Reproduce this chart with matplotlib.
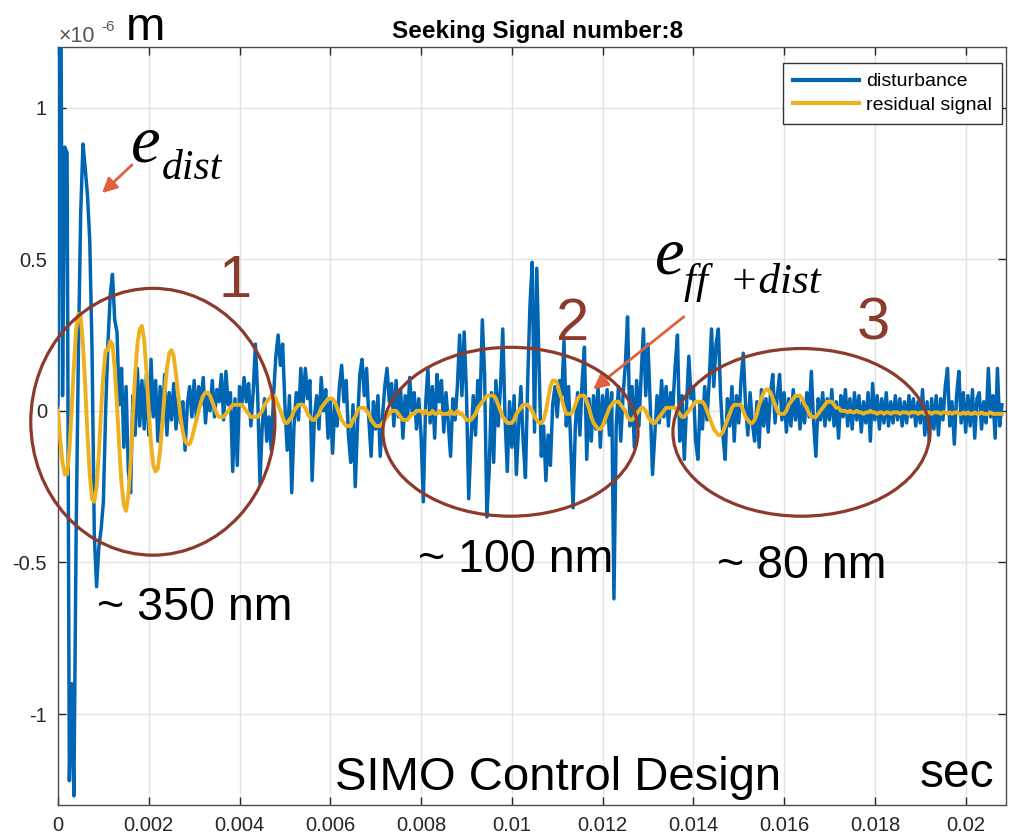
import matplotlib
matplotlib.use('Agg')
import matplotlib.pyplot as plt
from matplotlib.patches import Ellipse
from matplotlib.ticker import FuncFormatter
import numpy as np

plt.rcParams['font.family'] = ['Liberation Sans', 'DejaVu Sans']

dt = 0.00005  # sample time, s

# disturbance, x1e-6 m
disturbance = [
    0.02, 1.9, 0.05, 0.87, 0.85, -1.22, -0.9, -1.27, -0.4, 0.2, 0.65, 0.88, 0.80, 0.71, 0.56, 0.20, -0.41, -0.58, -0.45, -0.39,
    -0.30, 0.0, 0.22, 0.38, 0.45, 0.30, 0.26, 0.02, 0.14, -0.12, 0.08, -0.20, -0.27, 0.05, -0.08, 0.14, -0.05, 0.10, -0.06, 0.12,
    -0.08, 0.17, -0.02, 0.10, -0.10, 0.08, -0.05, 0.12, -0.08, 0.06, -0.03, 0.09, -0.06, 0.05, -0.04, 0.03, -0.13, 0.02, 0.08, -0.02,
    0.10, -0.03, 0.08, 0.02, 0.11, -0.04, 0.06, 0.00, 0.10, -0.02, 0.07, 0.03, 0.12, -0.03, 0.13, 0.02, 0.06, -0.20, 0.04, -0.18,
    0.08, 0.02, 0.11, 0.03, 0.09, -0.05, 0.06, 0.22, 0.05, -0.24, -0.05, 0.04, -0.10, -0.02, -0.13, 0.05, 0.18, 0.25, 0.15, 0.22,
    0.02, -0.13, 0.05, -0.27, -0.05, 0.06, -0.03, 0.14, 0.02, 0.14, 0.04, 0.10, -0.23, -0.02, 0.05, -0.06, 0.11, 0.00, 0.07, -0.09,
    0.04, -0.14, 0.02, -0.05, 0.08, 0.15, 0.03, 0.10, -0.08, -0.17, 0.02, -0.25, -0.04, 0.12, 0.17, 0.05, 0.14, -0.03, -0.15, 0.03,
    -0.06, 0.05, -0.15, -0.02, 0.08, 0.14, 0.03, 0.09, -0.05, 0.10, -0.02, 0.07, -0.09, 0.05, -0.03, 0.11, 0.00, 0.06, -0.06, 0.04,
    -0.08, -0.30, 0.02, 0.14, -0.04, 0.08, -0.09, 0.12, 0.03, 0.10, -0.07, 0.06, -0.04, -0.15, 0.04, -0.03, 0.08, 0.25, 0.05, 0.26,
    0.06, -0.29, -0.10, 0.05, -0.08, 0.10, 0.02, 0.30, 0.12, -0.35, -0.20, 0.06, -0.17, 0.10, -0.05, 0.08, 0.27, -0.02, -0.20, 0.03,
    -0.12, 0.05, -0.21, -0.05, 0.08, -0.10, -0.22, 0.10, 0.35, 0.49, -0.07, 0.47, 0.15, -0.15, -0.05, -0.23, -0.08, -0.18, 0.02, 0.08,
    -0.02, 0.10, 0.05, 0.23, -0.05, 0.08, -0.12, -0.32, -0.05, 0.06, -0.08, 0.10, 0.21, -0.16, 0.04, -0.10, 0.05, -0.06, 0.08, -0.12,
    0.05, -0.04, 0.07, -0.08, 0.06, -0.62, -0.05, 0.08, -0.10, 0.05, 0.15, 0.31, -0.05, 0.08, -0.12, 0.10, -0.05, 0.12, 0.27, 0.05,
    0.22, 0.02, -0.21, -0.08, 0.05, -0.04, 0.10, -0.02, 0.08, -0.05, 0.06, 0.02, 0.15, 0.25, -0.10, 0.05, -0.16, 0.02, 0.18, 0.04,
    0.08, -0.10, -0.16, 0.03, -0.06, 0.08, -0.03, 0.10, 0.27, 0.08, 0.22, 0.27, 0.05, -0.08, -0.16, 0.04, -0.05, 0.08, -0.10, 0.05,
    -0.04, 0.10, 0.19, 0.02, -0.08, 0.06, -0.04, -0.10, 0.03, -0.12, 0.07, -0.05, 0.04, -0.07, 0.06, 0.12, -0.04, 0.05, 0.12, -0.03,
    0.06, -0.07, 0.04, -0.05, 0.07, -0.03, 0.05, -0.06, 0.03, -0.04, 0.06, -0.02, 0.13, -0.04, -0.15, 0.04, -0.03, 0.06, -0.05, 0.04,
    -0.03, 0.07, -0.05, 0.03, -0.09, 0.05, -0.02, 0.07, -0.05, 0.04, -0.06, 0.06, -0.03, 0.05, -0.07, 0.03, -0.04, 0.06, -0.10, 0.09,
    -0.03, 0.05, -0.06, 0.04, -0.04, 0.06, -0.05, 0.03, -0.04, 0.05, -0.03, 0.04, -0.05, 0.03, -0.04, 0.05, -0.02, 0.04, -0.05, 0.03,
    -0.04, 0.07, -0.08, 0.03, -0.10, 0.04, -0.06, 0.05, -0.08, 0.04, -0.03, 0.08, 0.14, -0.05, 0.03, -0.11, 0.05, 0.13, -0.04, 0.06,
    -0.07, 0.05, -0.05, 0.07, -0.09, 0.04, 0.06, -0.06, 0.03, -0.04, 0.14, -0.02, 0.05, -0.09, 0.14, -0.05, 0.02,
]

# residual signal, x1e-6 m
residual = [
    0.00, -0.10, -0.17, -0.21, -0.21, -0.13, 0.00, 0.15, 0.27, 0.32, 0.31, 0.22, 0.08, -0.08, -0.21, -0.29, -0.30, -0.25, -0.14, 0.00,
    0.12, 0.20, 0.20, 0.23, 0.22, 0.14, 0.02, -0.12, -0.24, -0.31, -0.33, -0.28, -0.17, -0.02, 0.12, 0.22, 0.27, 0.28, 0.23, 0.13,
    0.00, -0.11, -0.18, -0.20, -0.19, -0.13, -0.04, 0.06, 0.14, 0.19, 0.20, 0.18, 0.12, 0.05, -0.02, -0.07, -0.10, -0.11, -0.11, -0.09,
    -0.06, -0.03, 0.00, 0.03, 0.05, 0.06, 0.06, 0.05, 0.03, 0.01, -0.01, -0.02, -0.02, -0.02, -0.01, 0.00, 0.01, 0.02, 0.02, 0.02,
    0.02, 0.02, 0.01, 0.00, -0.01, -0.02, -0.02, -0.02, -0.02, -0.01, 0.00, 0.02, 0.03, 0.04, 0.05, 0.05, 0.04, 0.02, 0.00, -0.02,
    -0.04, -0.04, -0.03, -0.02, 0.00, 0.01, 0.02, 0.02, 0.02, 0.01, -0.01, -0.02, -0.03, -0.03, -0.02, -0.01, 0.01, 0.02, 0.03, 0.04,
    0.04, 0.04, 0.03, 0.01, -0.01, -0.03, -0.04, -0.05, -0.05, -0.05, -0.03, -0.02, 0.00, 0.01, 0.01, 0.01, 0.00, -0.01, -0.03, -0.04,
    -0.05, -0.05, -0.05, -0.04, -0.03, -0.02, -0.01, 0.00, 0.00, 0.00, -0.01, -0.02, -0.03, -0.03, -0.03, -0.02, -0.01, -0.01, 0.00, 0.00,
    0.00, -0.01, 0.00, -0.01, -0.01, 0.00, -0.01, -0.01, 0.00, -0.01, -0.01, -0.01, -0.01, 0.00, -0.01, -0.01, 0.00, -0.01, -0.01, -0.02,
    -0.03, -0.03, -0.03, -0.02, -0.01, 0.01, 0.02, 0.03, 0.04, 0.05, 0.05, 0.05, 0.05, 0.04, 0.02, 0.00, -0.02, -0.03, -0.04, -0.04,
    -0.04, -0.03, -0.01, 0.00, 0.01, 0.02, 0.02, 0.02, 0.01, 0.00, -0.02, -0.03, -0.04, -0.04, -0.03, 0.00, 0.04, 0.08, 0.10, 0.10,
    0.09, 0.06, 0.04, 0.01, -0.01, -0.01, -0.01, 0.00, 0.02, 0.04, 0.05, 0.05, 0.05, 0.03, 0.01, -0.02, -0.04, -0.05, -0.06, -0.06,
    -0.05, -0.03, -0.01, 0.01, 0.02, 0.03, 0.03, 0.03, 0.02, 0.01, 0.00, -0.02, -0.03, -0.03, -0.02, -0.01, 0.00, 0.01, 0.01, 0.00,
    -0.02, -0.03, -0.04, -0.04, -0.03, -0.02, -0.01, 0.00, 0.01, 0.01, 0.01, 0.01, 0.01, 0.00, -0.01, -0.02, -0.02, -0.01, 0.00, 0.01,
    0.02, 0.03, 0.03, 0.03, 0.03, 0.02, 0.00, -0.02, -0.04, -0.06, -0.07, -0.08, -0.08, -0.07, -0.05, -0.03, -0.01, 0.01, 0.02, 0.02,
    0.02, 0.02, 0.00, -0.02, -0.03, -0.04, -0.04, -0.03, -0.01, 0.02, 0.04, 0.06, 0.07, 0.07, 0.06, 0.04, 0.02, 0.00, -0.01, -0.01,
    -0.01, 0.00, 0.02, 0.03, 0.04, 0.05, 0.05, 0.05, 0.04, 0.02, 0.01, -0.01, -0.02, -0.02, -0.02, -0.01, 0.00, 0.01, 0.02, 0.03,
    0.03, 0.03, 0.02, 0.01, 0.01, 0.00, 0.00, 0.00, -0.005, 0.00, -0.005, -0.005, 0.00, -0.005, -0.005, -0.01, -0.005, -0.005, 0.00, -0.005,
    -0.005, -0.01, -0.005, -0.005, -0.01, -0.005, -0.005, -0.01, -0.005, -0.005, -0.005, -0.01, -0.005, -0.005, -0.005, -0.01, -0.005, -0.005, -0.005, -0.01,
    -0.005, -0.005, -0.01, -0.005, -0.005, -0.01, -0.005, -0.005, -0.005, -0.01, -0.005, -0.005, -0.01, -0.005, -0.01, -0.005, -0.005, -0.01, -0.01, -0.005,
    -0.01, -0.005, -0.01, -0.01, -0.005, -0.01, -0.01, -0.005, -0.01, -0.01, -0.01, -0.005, -0.01, -0.01, -0.01, -0.01, -0.01,
]

x_ticks = [0, 0.002, 0.004, 0.006, 0.008, 0.01, 0.012, 0.014, 0.016, 0.018, 0.02]
y_ticks = [-1, -0.5, 0, 0.5, 1]

# circled regions: (center t, center y, width, height)
regions = [
    (0.00209, -0.036, 0.00538, 0.88),
    (0.00997, -0.069, 0.00562, 0.557),
    (0.01638, -0.071, 0.00566, 0.553),
]

W, H = 1011, 840
BLUE = '#0066B3'
ORANGE = '#EDB120'
BROWN = '#8B3A2C'
ARROW = '#E0603F'

t = np.arange(len(disturbance)) * dt
t_res = np.arange(len(residual)) * dt

fig = plt.figure(figsize=(W / 100, H / 100), dpi=100)
ax = fig.add_axes([58 / W, 1 - 805 / H, 948.5 / W, 758 / H])

ax.plot(t, disturbance, color=BLUE, lw=2.5, label='disturbance', zorder=3)
ax.plot(t_res, residual, color=ORANGE, lw=2.8, label='residual signal', zorder=4)

ax.set_xlim(0, 0.0209)
ax.set_ylim(-1.3, 1.2)
ax.set_xticks(x_ticks)
ax.set_yticks(y_ticks)
fmt = FuncFormatter(lambda v, p: '%g' % v)
ax.xaxis.set_major_formatter(fmt)
ax.yaxis.set_major_formatter(fmt)
ax.tick_params(direction='in', length=6, width=1, colors='#262626', labelsize=14.5,
               top=True, right=True, pad=8)
ax.grid(True, color='#e3e3e3', lw=1)
ax.set_axisbelow(True)
for s in ax.spines.values():
    s.set_color('#4d4d4d')
    s.set_linewidth(1)

leg = ax.legend(loc='upper right', bbox_to_anchor=(1002 / W, 1 - 63 / H),
                bbox_transform=fig.transFigure, borderaxespad=0, fontsize=14,
                handlelength=3.4, handletextpad=0.4, borderpad=0.5, labelspacing=0.3,
                fancybox=False, framealpha=1)
leg.get_frame().set_edgecolor('#333333')
leg.get_frame().set_linewidth(1)
for line in leg.get_lines():
    line.set_linewidth(3)

for cx, cy, w, h in regions:
    ax.add_patch(Ellipse((cx, cy), w, h, fill=False, ec=BROWN, lw=2.3, zorder=5,
                         clip_on=False))


def ftext(x, y, s, **kw):
    fig.text(x / W, 1 - y / H, s, **kw)


def farrow(x0, y0, x1, y1):
    ax.annotate('', xy=(x1 / W, 1 - y1 / H), xytext=(x0 / W, 1 - y0 / H),
                xycoords='figure fraction', textcoords='figure fraction',
                arrowprops=dict(arrowstyle='-|>', color=ARROW, lw=2, mutation_scale=22))


ftext(538, 38, 'Seeking Signal number:8', ha='center', fontsize=17.5, fontweight='bold')
ftext(59, 42, '\u00d710', fontsize=15.5, color='#555555')
ftext(101, 31, '-6', fontsize=11, color='#555555')
ftext(126, 40, 'm', fontsize=34)

serif = ['Liberation Serif', 'DejaVu Serif']
ftext(131, 161, 'e', fontsize=48, style='italic', family=serif)
ftext(162, 179, 'dist', fontsize=30, style='italic', family=serif)
ftext(655, 273, 'e', fontsize=48, style='italic', family=serif)
ftext(684, 293, 'ff  +dist', fontsize=31, style='italic', family=serif)

farrow(134, 163, 100, 195)
farrow(686, 315, 591, 391)

ftext(235, 297, '1', ha='center', fontsize=43, color=BROWN)
ftext(573, 340, '2', ha='center', fontsize=43, color=BROWN)
ftext(873, 340, '3', ha='center', fontsize=43, color=BROWN)

ftext(97, 620, '~ 350 nm', fontsize=33.5)
ftext(418, 572, '~ 100 nm', fontsize=33.5)
ftext(717, 578, '~ 80 nm', fontsize=33.5)
ftext(335, 790, 'SIMO Control Design', fontsize=34)
ftext(920, 787, 'sec', fontsize=34.5)

fig.savefig('out.png', dpi=100)
